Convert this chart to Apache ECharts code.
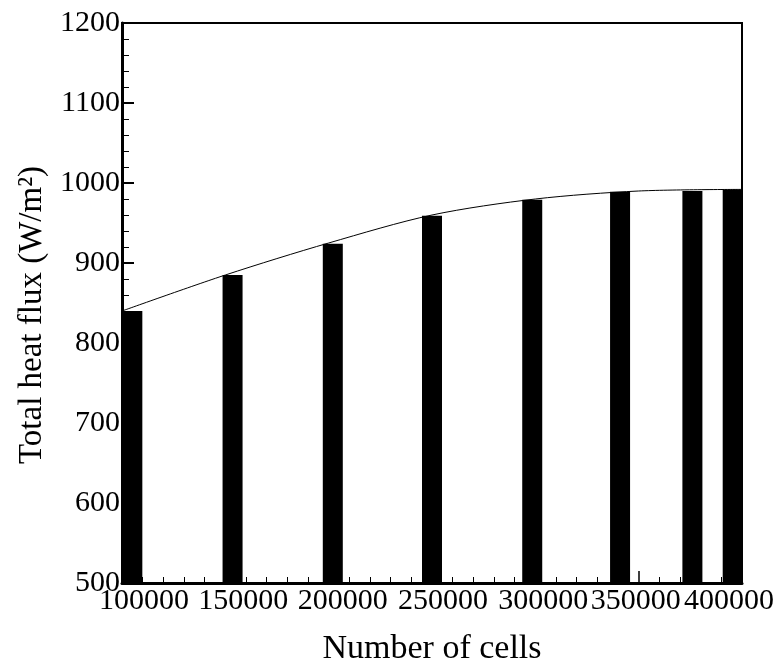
<!DOCTYPE html>
<html>
<head>
<meta charset="utf-8">
<script src="https://cdn.jsdelivr.net/npm/echarts@6/dist/echarts.min.js"></script>
<style>
html, body { margin: 0; padding: 0; background: #fff; }
#main { width: 780px; height: 661px; }
</style>
</head>
<body>
<div id="main"></div>
<script>
// bars: x position (cells) and height (W/m2)
var barCells = [105000, 153500, 202000, 250000, 298500, 341000, 376000, 395500];
var barFlux = [840, 885, 924, 959, 979, 989, 990, 992];
// fitted curve through the bar tops
var lineCells = [100000, 150000, 200000, 250000, 300000, 350000, 400000];
var lineFlux = [840, 885, 925, 960, 980, 990, 992];
var xTicks = [100000, 150000, 200000, 250000, 300000, 350000, 400000];
var yTicks = [500, 600, 700, 800, 900, 1000, 1100, 1200];

var font = '"Liberation Serif", "DejaVu Serif", serif';

// label shifts (the tick labels are not centred under their ticks in the source)
var shift = [22, 18, 14, 11, 8, -3, -13];
var rich = {};
shift.forEach(function (s, i) {
  rich['s' + i] = {
    fontFamily: font,
    fontSize: 30,
    color: '#000',
    padding: s >= 0 ? [0, 0, 0, 2 * s] : [0, -2 * s, 0, 0]
  };
});

var chart = echarts.init(document.getElementById('main'));
var option = {
  backgroundColor: '#fff',
  animation: false,
  grid: {
    left: 122,
    right: 38,
    top: 23,
    bottom: 78,
    containLabel: false,
    outerBoundsMode: 'none',
    show: true,
    borderColor: '#000',
    borderWidth: 2
  },
  xAxis: {
    type: 'value',
    min: xTicks[0],
    max: xTicks[xTicks.length - 1],
    interval: 50000,
    name: 'Number of cells',
    nameLocation: 'middle',
    nameGap: 49,
    nameTextStyle: { fontFamily: font, fontSize: 34, color: '#000' },
    axisLine: { show: true, lineStyle: { color: '#000', width: 3 } },
    axisTick: { show: true, inside: true, length: 12, lineStyle: { color: '#000', width: 1.5 } },
    minorTick: { show: true, splitNumber: 5, length: 6, lineStyle: { color: '#000', width: 1 } },
    splitLine: { show: false },
    axisLabel: {
      margin: 3,
      showMinLabel: true,
      showMaxLabel: true,
      hideOverlap: false,
      formatter: function (v) {
        var i = xTicks.indexOf(v);
        return '{s' + i + '|' + v + '}';
      },
      rich: rich
    }
  },
  yAxis: {
    type: 'value',
    min: yTicks[0],
    max: yTicks[yTicks.length - 1],
    interval: 100,
    name: 'Total heat flux (W/m²)',
    nameLocation: 'middle',
    nameGap: 72,
    nameTextStyle: { fontFamily: font, fontSize: 33, color: '#000', padding: [0, 24, 0, 0] },
    axisLine: { show: true, lineStyle: { color: '#000', width: 3 } },
    axisTick: { show: true, inside: true, length: 12, lineStyle: { color: '#000', width: 2 } },
    minorTick: { show: true, splitNumber: 5, length: 7, lineStyle: { color: '#000', width: 1 } },
    splitLine: { show: false },
    axisLabel: {
      margin: 2,
      showMinLabel: true,
      showMaxLabel: true,
      fontFamily: font,
      fontSize: 30,
      color: '#000',
      formatter: function (v) { return String(v); }
    }
  },
  series: [{
    type: 'bar',
    barWidth: 20,
    itemStyle: { color: '#000' },
    data: barCells.map(function (c, i) { return [c, barFlux[i]]; })
  }, {
    type: 'line',
    symbol: 'none',
    smooth: 0.3,
    lineStyle: { color: '#000', width: 1 },
    data: lineCells.map(function (c, i) { return [c, lineFlux[i]]; }),
    z: 5
  }]
};
chart.setOption(option);
</script>
</body>
</html>
